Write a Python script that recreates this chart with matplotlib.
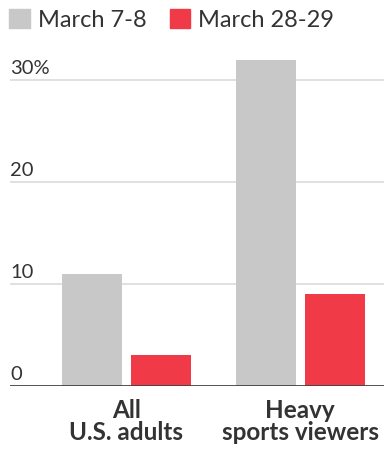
import matplotlib
matplotlib.use("Agg")
import matplotlib.pyplot as plt
import numpy as np
from matplotlib.patches import Patch
from matplotlib.transforms import blended_transform_factory

categories = ["All\nU.S. adults", "Heavy\nsports viewers"]
series_names = ["March 7-8", "March 28-29"]
march_7_8 = [11, 32]
march_28_29 = [3, 9]
y_ticks = [0, 10, 20, 30]
y_tick_labels = ["0", "10", "20", "30%"]

GRAY = "#c8c8c8"
RED = "#f03a47"
TEXT = "#333333"

W, H = 384, 451
fig = plt.figure(figsize=(W / 100, H / 100), dpi=100)
plt.rcParams["font.family"] = ["Lato", "DejaVu Sans"]

# axes in pixel units: left edge 10, bottom (zero line) at y=386 from top
zero_px = 386
px_per_unit = 10.2
ymax = 33
top_px = zero_px - ymax * px_per_unit
ax = fig.add_axes([10 / W, 1 - zero_px / H, (W - 10) / W, (zero_px - top_px) / H])

x = np.arange(len(categories))
spacing = 173.5
bw = 60 / spacing
off = 34.5 / spacing
ax.bar(x - off, march_7_8, width=bw, color=GRAY, zorder=2)
ax.bar(x + off, march_28_29, width=bw, color=RED, zorder=2)

ax.set_xlim((10 - 126.5) / spacing, (W - 126.5) / spacing)
ax.set_ylim(0, ymax)

for s in ax.spines.values():
    s.set_visible(False)
ax.set_xticks([])
ax.set_yticks([])

trans = blended_transform_factory(ax.transAxes, ax.transData)
for v, lab in zip(y_ticks, y_tick_labels):
    if v == 0:
        ax.axhline(0, color="#444444", lw=1.3, zorder=3)
    else:
        ax.axhline(v, color="#e0e0e0", lw=1.4, zorder=1)
    ax.annotate(lab, xy=(0, v), xycoords=trans, xytext=(0, 2), textcoords="offset points",
                ha="left", va="bottom", fontsize=14.5, color=TEXT)

for xi, lab in zip(x, categories):
    ax.annotate(lab, xy=(xi, 0), xycoords="data", xytext=(0, -9), textcoords="offset points",
                ha="center", va="top", fontsize=17.5, fontweight="bold", color=TEXT,
                linespacing=0.95, annotation_clip=False)

handles = [Patch(color=GRAY), Patch(color=RED)]
fig.legend(handles, series_names, loc="upper left", bbox_to_anchor=(0, 1.0), ncol=2,
           frameon=False, fontsize=17, handlelength=0.85, handleheight=0.85,
           handletextpad=0.35, columnspacing=1.0, borderaxespad=0.2, borderpad=0.2,
           labelcolor=TEXT)

fig.savefig("out.png", dpi=100)
